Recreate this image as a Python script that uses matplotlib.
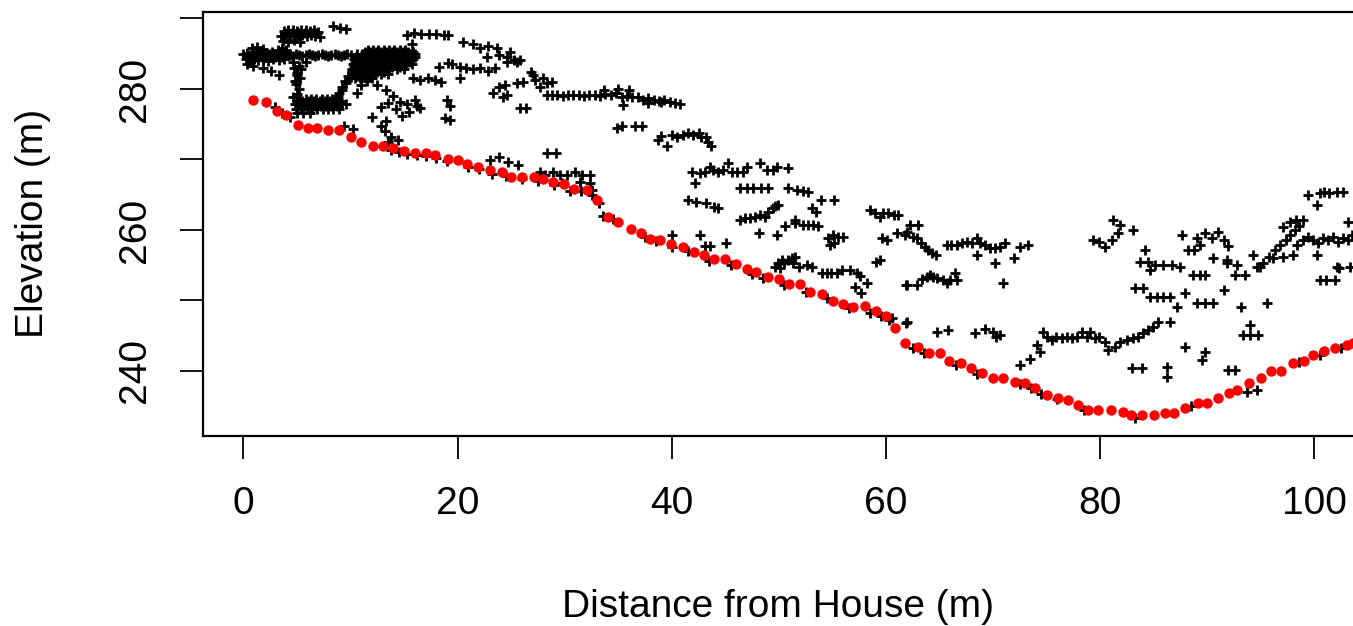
import matplotlib
matplotlib.use("Agg")
import matplotlib.pyplot as plt

# ---------------- ground profile (red) ----------------
ground_x = [0.9, 2.1, 3.1, 4.0, 5.1, 6.0, 6.9, 7.9, 8.9, 10.0, 11.0, 12.1, 13.0, 14.0, 15.0, 16.0,
            17.0, 17.9, 19.1, 20.0, 20.9, 21.9, 23.0, 24.1, 25.0, 26.0, 27.1, 28.0, 28.9, 29.9,
            30.9, 32.1, 33.0, 34.0, 35.0, 36.2, 37.1, 38.0, 38.9, 39.9, 41.0, 42.1, 43.0, 43.9,
            45.0, 46.0, 47.0, 47.9, 49.0, 50.0, 50.9, 52.0, 52.9, 54.0, 55.0, 56.0, 56.9, 58.0,
            59.1, 60.0, 60.8, 61.8, 63.0, 64.0, 65.0, 65.9, 67.0, 67.9, 69.0, 70.0, 70.9, 72.0,
            73.0, 73.9, 75.0, 76.1, 77.0, 77.9, 78.9, 79.8, 81.0, 82.1, 82.9, 83.9, 85.0, 86.0,
            86.9, 87.9, 89.1, 90.0, 91.0, 92.0, 92.8, 93.9, 95.0, 95.9, 96.9, 98.0, 99.0, 99.9,
            100.9, 101.9, 103.0, 103.6]
ground_y = [278.4, 278.2, 276.9, 276.3, 274.9, 274.5, 274.5, 274.2, 274.2, 273.2, 272.5, 271.9,
            271.9, 271.6, 271.2, 270.9, 270.9, 270.6, 270.1, 269.9, 269.4, 268.9, 268.5, 268.2,
            267.5, 267.5, 267.5, 267.2, 266.8, 266.5, 265.8, 265.7, 264.3, 261.8, 261.1, 260.1,
            259.6, 258.7, 258.6, 258.0, 257.6, 256.9, 256.5, 255.9, 255.9, 255.2, 254.5, 254.0,
            253.3, 253.0, 252.3, 252.3, 251.2, 250.9, 249.9, 249.5, 249.1, 249.2, 248.5, 247.8,
            246.1, 244.0, 243.4, 242.6, 242.6, 241.4, 241.1, 240.4, 239.7, 239.0, 239.0, 238.4,
            238.3, 237.6, 236.6, 236.2, 235.9, 235.2, 234.5, 234.5, 234.5, 234.2, 233.8, 233.8,
            233.8, 234.0, 234.0, 234.8, 235.5, 235.5, 236.2, 236.9, 237.3, 238.3, 239.0, 240.0,
            240.0, 241.1, 241.4, 242.3, 242.8, 243.3, 243.7, 244.0]

# ---------------- scanned points (black +) ----------------
# western cluster near the house
west_x = [0.0, 0.3, 0.6, 0.9, 1.2, 1.5, 1.8, 2.1, 2.4, 2.7, 3.0, 3.3, 3.6, 3.9, 4.2,
          0.2, 0.6, 1.0, 1.4, 1.8, 2.3, 2.8, 3.3, 3.8, 0.8, 1.3, 1.8, 3.2, 3.6, 1.8, 2.6, 3.3, 0.3, 0.9,
          3.8, 4.2, 4.6, 5.0, 5.4, 5.8, 6.2, 6.6, 7.0, 3.5, 3.9, 4.3, 4.7, 5.1, 5.5, 5.9, 6.3, 6.7, 7.1,
          3.7, 4.2, 4.7, 5.3, 8.4, 9.0, 9.6,
          4.3, 4.6, 4.9, 5.2, 5.5, 5.8, 6.1, 6.4, 6.7, 7.0, 7.3, 7.6, 7.9, 8.2, 8.5, 8.8, 9.1, 9.4,
          9.7, 10.0, 4.6, 5.2, 5.8, 5.0,
          4.7, 5.0, 5.3, 4.9, 5.2, 5.0, 4.6, 5.4, 4.8,
          0.5, 1.1, 1.7, 2.3, 2.9, 3.5, 4.0, 3.9, 4.5, 5.1, 5.7, 6.3, 6.9]
west_y = [284.9, 285.1, 284.8, 285.0, 285.2, 284.9, 285.1, 284.8, 285.0, 285.2, 284.9, 285.1, 284.9, 285.0, 284.8,
          284.2, 284.0, 284.3, 284.1, 284.2, 284.0, 284.3, 284.1, 284.2, 285.8, 285.9, 285.7, 285.6, 285.8,
          283.0, 282.5, 282.0, 283.5, 283.3,
          288.2, 288.4, 288.3, 288.2, 288.4, 288.3, 288.2, 288.4, 288.1, 287.5, 287.7, 287.5, 287.6, 287.4,
          287.6, 287.5, 287.7, 287.5, 287.4, 286.8, 286.6, 286.9, 286.7, 288.9, 288.6, 288.5,
          284.8, 284.7, 284.9, 284.8, 284.7, 284.8, 284.9, 284.8, 284.7, 284.8, 284.9, 284.8, 284.7, 284.8,
          284.9, 284.8, 284.7, 284.8, 284.9, 284.8, 283.8, 283.3, 283.8, 282.0,
          283.0, 282.3, 281.5, 280.7, 280.0, 279.3, 278.8, 282.8, 281.2,
          284.55, 284.6, 284.5, 284.6, 284.55, 284.6, 285.6, 287.9, 288.0, 287.9, 288.0, 287.9, 287.9]

band_x = [5.3, 5.8, 6.3, 6.8, 7.3, 7.8, 8.3, 8.8,
          4.8, 5.2, 5.6, 6.0, 6.4, 6.8, 7.2, 7.6, 8.0, 8.4, 8.8, 9.2, 9.6,
          4.9, 5.4, 5.9, 6.4, 6.9, 7.4, 7.9, 8.4, 8.9, 5.0, 5.6, 6.2,
          8.6, 8.9, 9.2, 9.5, 9.8, 10.1, 10.4, 8.8, 9.2, 9.6, 10.0, 10.4,
          5.0, 5.5, 6.1, 6.6, 7.1, 7.6, 8.1, 8.6, 9.1, 5.2, 5.7, 6.2, 6.7, 7.2, 7.7, 8.2, 8.7]
band_y = [278.6, 278.6, 278.6, 278.6, 278.6, 278.6, 278.6, 278.6,
          277.9, 277.9, 277.9, 277.9, 277.9, 277.9, 277.9, 277.9, 277.9, 277.9, 277.9, 277.9, 277.9,
          277.2, 277.2, 277.2, 277.2, 277.2, 277.2, 277.2, 277.2, 277.2, 276.6, 276.6, 276.6,
          278.7, 279.5, 280.3, 281.1, 281.9, 282.7, 283.5, 279.0, 279.9, 280.8, 281.7, 282.6,
          278.25, 278.25, 278.25, 278.25, 278.25, 278.25, 278.25, 278.25, 278.25,
          277.55, 277.55, 277.55, 277.55, 277.55, 277.55, 277.55, 277.55]

blob_rows_y = [285.6, 285.25, 284.9, 284.55, 284.2, 283.85, 283.5, 283.15, 282.8, 282.45, 282.1, 281.8, 281.5]
blob_rows_x = [[11.6, 12.1, 12.6, 13.1, 13.6, 14.1, 14.6, 15.1],
               [11.35, 11.85, 12.35, 12.85, 13.35, 13.85, 14.35, 14.85, 15.35, 15.8],
               [10.6, 11.1, 11.6, 12.1, 12.6, 13.1, 13.6, 14.1, 14.6, 15.1, 15.6, 16.0],
               [10.55, 11.05, 11.55, 12.05, 12.55, 13.05, 13.55, 14.05, 14.55, 15.05, 15.55, 16.0],
               [10.3, 10.8, 11.3, 11.8, 12.3, 12.8, 13.3, 13.8, 14.3, 14.8, 15.3, 15.8],
               [10.45, 10.95, 11.45, 11.95, 12.45, 12.95, 13.45, 13.95, 14.45, 14.95, 15.45],
               [10.2, 10.7, 11.2, 11.7, 12.2, 12.7, 13.2, 13.7, 14.2, 14.7, 15.2, 15.7],
               [10.35, 10.85, 11.35, 11.85, 12.35, 12.85, 13.35, 13.9, 14.6],
               [10.1, 10.6, 11.1, 11.6, 12.1, 12.6, 13.1, 13.6, 14.3, 15.0],
               [10.45, 10.95, 11.45, 11.95, 12.5, 13.1],
               [10.2, 10.7, 11.2, 11.7, 12.2, 12.8, 13.5],
               [10.6, 11.1, 11.7],
               [10.4, 10.9, 11.4, 12.0]]

scatter_w_x = [12.5, 13.3, 14.0, 14.6, 15.3, 16.0, 13.5, 12.8, 14.2, 15.5, 16.2, 14.8, 11.0, 10.6,
               11.5, 12.0, 12.8, 13.3, 13.2, 13.8, 14.4, 13.5, 16.5, 2.9, 3.6, 4.3, 9.4, 10.2,
               15.3, 15.9, 16.6, 17.3, 18.0, 18.7, 19.1, 15.7, 15.8, 16.5, 17.2, 17.9, 18.4, 20.2]
scatter_w_y = [280.5, 279.8, 279.0, 278.2, 277.8, 278.4, 278.0, 277.5, 277.2, 276.8, 277.6, 276.2,
               280.5, 279.5, 281.2, 276.0, 274.7, 275.5, 274.0, 273.2, 272.8, 272.5, 277.3,
               277.5, 276.6, 276.0, 274.8, 274.3,
               287.6, 288.0, 287.8, 287.8, 287.8, 287.7, 287.6, 286.4, 281.5, 281.3, 281.5, 281.3,
               281.0, 281.5]

# middle section (20 - 45 m)
mid_x = [20.5, 21.4, 22.1, 22.8, 23.7, 23.9, 24.6, 24.9, 25.3, 25.8, 22.7, 24.6, 25.5,
         18.3, 19.1, 19.5, 20.2, 20.8, 21.4, 22.1, 22.8, 23.5,
         23.3, 23.9, 24.4, 24.6, 24.2, 25.5, 26.1, 26.8, 27.0, 27.2, 28.0, 28.3, 28.8, 27.7,
         19.0, 19.3, 18.8, 19.3, 25.8, 26.4, 28.3, 29.2,
         28.3, 28.8, 29.3, 29.8, 30.3, 30.8, 31.3, 31.8, 32.3, 32.8, 33.3, 33.8, 34.3, 34.8,
         35.3, 35.8, 36.3, 36.8, 37.3, 37.8, 38.3, 38.8, 39.3, 39.8, 40.3, 40.8,
         35.0, 35.4, 36.0, 37.8, 39.0, 33.7,
         34.9, 35.3, 36.6, 37.2,
         38.7, 39.0, 39.5, 40.0, 40.5, 41.0, 41.5, 42.0, 42.5, 42.7, 43.2, 43.4, 43.7,
         27.7, 28.2, 28.9, 29.6, 30.2, 31.0, 31.6, 32.4, 32.4, 31.4, 32.5, 29.7,
         23.0, 23.9, 24.7, 25.6]
mid_y = [286.7, 286.4, 285.8, 286.1, 285.8, 284.8, 284.5, 285.2, 284.1, 284.1, 284.5, 283.8, 283.8,
         283.1, 283.7, 283.6, 283.1, 283.0, 282.8, 283.0, 282.6, 283.0,
         279.4, 280.3, 280.6, 279.1, 278.9, 280.9, 281.0, 282.4, 282.0, 281.3, 281.6, 280.9, 281.0, 280.3,
         278.4, 277.6, 275.9, 275.6, 277.3, 277.3, 270.9, 270.9,
         279.2, 279.1, 279.2, 279.0, 279.2, 279.1, 279.2, 279.0, 279.1, 279.2, 279.0, 279.3, 279.1, 279.4,
         278.8, 279.0, 278.9, 278.8, 278.5, 278.7, 278.4, 278.3, 278.4, 278.1, 278.0, 277.8,
         280.0, 277.7, 279.9, 278.0, 278.2, 279.8,
         274.5, 274.8, 274.8, 274.8,
         272.8, 273.3, 271.9, 273.5, 273.2, 273.5, 273.8, 273.5, 273.8, 273.2, 273.2, 272.5, 271.9,
         268.2, 267.8, 268.2, 267.8, 267.8, 268.2, 267.8, 267.8, 266.7, 266.8, 265.7, 266.7,
         269.9, 270.4, 269.6, 269.2]

# central section (40 - 65 m)
center_x = [41.9, 42.6, 43.1, 43.6, 43.8, 44.3, 44.8, 45.2, 45.6, 46.1, 46.6, 47.0, 48.2, 48.9,
            49.4, 49.8, 50.8, 42.2,
            46.4, 47.0, 47.6, 48.3, 49.0, 50.8, 51.7, 52.2, 52.7, 53.9, 55.1,
            41.5, 42.3, 43.2, 43.9, 44.3,
            46.4, 46.8, 47.3, 47.8, 48.2, 48.7, 49.0, 49.4, 49.6, 49.9, 48.1,
            50.6, 51.5, 51.5, 52.2, 52.7, 53.2, 53.6, 53.1, 53.5, 49.8,
            54.6, 55.0, 55.1, 55.5, 56.0, 54.8,
            42.6, 43.1, 43.6, 45.1, 40.0,
            49.6, 49.9, 50.3, 50.5, 50.8, 51.2, 51.5, 51.3, 51.9, 52.6, 53.1, 50.1,
            54.0, 54.5, 54.9, 55.4, 55.9, 56.6, 57.6, 57.1, 57.7, 57.3, 58.2,
            58.5, 59.0, 59.4, 59.7, 60.2, 60.7, 61.1,
            59.6, 60.1, 61.0, 61.8, 62.0, 62.5, 62.9, 63.3, 63.6, 63.9, 64.3, 64.7, 62.2, 63.0,
            59.1, 61.9, 59.4, 60.6, 61.9]
center_y = [268.2, 268.1, 268.2, 268.9, 268.5, 268.2, 268.5, 269.5, 268.2, 268.2, 268.2, 268.9, 269.5, 268.5,
            268.5, 268.9, 268.8, 266.7,
            266.0, 266.0, 266.0, 266.0, 266.0, 266.0, 265.7, 265.6, 265.4, 264.3, 264.3,
            264.3, 263.9, 263.8, 263.3, 263.1,
            261.4, 261.7, 261.7, 261.8, 262.1, 261.8, 262.5, 263.1, 263.4, 263.5, 259.6,
            260.6, 261.4, 261.0, 260.7, 260.7, 260.7, 260.6, 263.1, 262.5, 259.3,
            258.9, 259.3, 258.2, 259.0, 259.0, 257.9,
            259.3, 257.7, 257.7, 258.2, 259.3,
            254.7, 255.3, 255.7, 255.3, 255.7, 256.0, 256.2, 255.3, 254.7, 255.0, 254.7, 254.6,
            253.9, 253.9, 253.9, 253.9, 254.3, 254.3, 253.5, 251.9, 251.0, 253.9, 252.5,
            262.8, 262.4, 261.8, 262.4, 262.4, 262.1, 262.1,
            258.9, 258.6, 259.6, 259.3, 259.7, 259.0, 258.9, 258.2, 257.6, 257.2, 256.8, 256.5, 260.7, 260.7,
            255.5, 252.2, 255.7, 247.5, 246.8]

# eastern section (62 - 86 m)
east_x = [65.7, 66.1, 66.6, 67.1, 67.6, 68.0, 68.5, 68.8, 69.2, 69.7, 70.2, 70.6, 71.1, 68.5,
          70.2, 70.9, 71.9, 72.5, 73.3,
          62.0, 62.9, 63.4, 63.8, 64.1, 64.4, 64.8, 65.3, 65.7, 66.0, 66.4, 66.6,
          62.0, 64.8, 65.8, 68.3, 69.2, 70.0, 70.3, 70.6,
          72.5, 73.4, 74.1, 74.4,
          74.7, 75.0, 75.5, 75.9, 76.4, 76.9, 77.4, 77.8, 78.3, 78.8, 79.0, 79.5, 79.9, 80.4,
          80.7, 81.4, 81.8, 82.5, 83.1, 83.5, 84.0, 84.5, 84.9, 85.4, 86.5,
          79.3, 79.9, 80.4, 81.1, 81.2, 81.8, 81.7, 83.1]
east_y = [257.9, 257.9, 257.9, 258.2, 258.3, 258.2, 258.9, 258.2, 257.9, 257.4, 257.4, 257.6, 258.2, 256.5,
          255.3, 252.5, 256.0, 257.6, 257.9,
          252.2, 252.2, 253.0, 253.3, 253.6, 253.3, 253.2, 252.9, 252.5, 252.9, 253.9, 252.9,
          247.0, 245.5, 245.8, 245.4, 246.0, 245.5, 244.8, 245.1,
          240.9, 241.7, 243.7, 242.7,
          245.5, 244.8, 244.4, 244.8, 244.7, 244.8, 244.7, 244.8, 245.5, 244.8, 245.5, 244.7, 244.8, 244.1,
          243.0, 243.4, 244.1, 244.4, 244.7, 244.8, 245.4, 245.8, 246.2, 247.0, 247.0,
          258.6, 258.3, 257.6, 258.6, 261.4, 260.7, 259.6, 260.0]

# far eastern section (83 - 104 m)
far_x = [84.2, 83.7, 84.5, 85.1, 84.6, 85.9, 86.7, 87.4, 83.2, 84.0, 84.6, 85.3, 85.9, 86.5, 87.2,
         87.6, 88.2, 88.8, 89.3, 89.0, 89.8, 90.4, 91.0, 91.6, 90.5, 91.9, 91.8,
         88.7, 89.3, 89.8, 87.9, 89.0, 89.8, 90.5, 91.6,
         91.8, 92.8, 92.6, 93.5, 94.3, 94.6, 94.9,
         93.1, 95.6, 94.0, 93.3, 94.0, 94.7,
         83.0, 83.9, 86.2, 86.2, 87.9, 89.8, 89.5,
         95.2, 95.8, 96.3, 96.8, 97.3, 97.7, 98.2, 98.6, 97.1, 97.7, 98.3, 98.9, 96.1, 97.1, 98.0,
         98.4, 98.9, 99.4, 99.9, 100.3, 100.8, 101.3, 101.7, 102.2, 102.7, 103.1, 103.5, 100.2,
         99.4, 100.2, 100.5, 100.9, 101.4, 102.1, 102.7, 103.1,
         100.5, 101.1, 101.9, 102.1, 102.3, 103.3]
far_y = [257.2, 255.5, 255.5, 255.0, 254.3, 255.0, 255.0, 254.7, 251.8, 251.8, 250.5, 250.5, 250.5, 250.5, 249.1,
         259.3, 257.2, 257.2, 257.9, 258.9, 259.6, 258.9, 259.7, 258.6, 256.0, 257.7, 255.7,
         253.6, 253.6, 253.6, 251.1, 249.6, 249.6, 249.6, 251.5,
         255.3, 255.0, 253.6, 253.6, 256.5, 254.8, 254.8,
         249.1, 249.6, 246.5, 245.1, 245.1, 245.1,
         240.4, 240.4, 240.6, 239.1, 243.4, 242.7, 241.6,
         255.3, 256.2, 257.2, 257.9, 258.6, 259.3, 260.0, 260.6, 260.4, 261.1, 261.4, 261.4, 256.0, 256.2, 256.5,
         257.9, 258.6, 259.0, 258.6, 258.2, 258.9, 258.6, 259.0, 258.3, 258.9, 258.6, 259.3, 256.5,
         265.0, 263.5, 265.2, 265.4, 265.2, 265.4, 265.4, 261.1,
         252.9, 252.9, 252.9, 254.8, 254.6, 254.8]

# points lying on / just under the ground profile
near_ground_x = [13.8, 14.5, 15.3, 16.2, 17.0, 18.0, 19.0, 21.0, 22.0, 23.2, 24.5, 26.0, 27.5, 29.0,
                 30.5, 31.5, 32.5, 33.2, 33.6, 34.5, 37.5, 38.5, 40.0, 41.5, 43.5, 45.5, 47.5, 48.5,
                 50.5, 52.5, 54.5, 56.5, 58.5, 59.5, 60.3, 62.5, 63.5, 66.5, 68.5, 72.5, 73.5, 74.5,
                 76.0, 78.5, 83.2, 88.5, 91.9, 92.6, 93.7, 94.6, 98.6, 100.5, 102.5]
near_ground_y = [271.3, 271.0, 270.8, 270.6, 270.5, 270.2, 269.8, 269.0, 268.6, 268.0, 267.6, 267.2, 266.9, 266.4,
                 265.6, 265.5, 265.0, 263.8, 262.0, 261.5, 259.0, 258.4, 257.6, 257.0, 255.6, 255.0, 253.8, 253.2,
                 252.2, 251.2, 250.3, 249.0, 248.2, 247.8, 247.2, 243.3, 242.6, 240.8, 239.6, 238.1, 237.6, 236.8,
                 236.0, 234.4, 233.4, 235.0, 240.1, 240.1, 237.0, 237.3, 241.3, 242.3, 243.2]

x_ticks = [0, 20, 40, 60, 80, 100]
y_ticks = [240, 250, 260, 270, 280, 290]
y_tick_labels = ["240", "", "260", "", "280", ""]

# ---------------- figure ----------------
plt.rcParams['font.family'] = ['Liberation Sans', 'DejaVu Sans']
W, H = 1353, 626
fig = plt.figure(figsize=(W / 100, H / 100), dpi=100)
ax = fig.add_axes([203 / W, 1 - 436 / H, 1 - 203 / W, 424 / H])

blob_x, blob_y = [], []
for yy, xs in zip(blob_rows_y, blob_rows_x):
    blob_x += xs
    blob_y += [yy] * len(xs)

black_x = west_x + band_x + blob_x + scatter_w_x + mid_x + center_x + east_x + far_x + near_ground_x
black_y = west_y + band_y + blob_y + scatter_w_y + mid_y + center_y + east_y + far_y + near_ground_y

ax.plot(black_x, black_y, linestyle='none', marker='+', ms=6.5, mew=2.0, color='black')
ax.plot(ground_x, ground_y, linestyle='none', marker='o', ms=7.5, mew=0, color='#ff0000')

ax.set_xlim(-3.78, 103.6)
ax.set_ylim(230.78, 290.92)
ax.set_xticks(x_ticks)
ax.set_xticklabels([str(t) for t in x_ticks])
ax.set_yticks(y_ticks)
ax.set_yticklabels(y_tick_labels, rotation=90, va='center')
ax.tick_params(direction='out', length=16.8, width=1.3, pad=19, labelsize=28, colors='black')

for s in ['top', 'left', 'bottom']:
    ax.spines[s].set_linewidth(1.6)
ax.spines['right'].set_visible(False)

fig.text(778 / W, 1 - 607 / H, 'Distance from House (m)', ha='center', va='center', fontsize=28)
fig.text(33 / W, 1 - 223 / H, 'Elevation (m)', ha='center', va='center', rotation=90, fontsize=28)

fig.savefig('out.png', dpi=100)
